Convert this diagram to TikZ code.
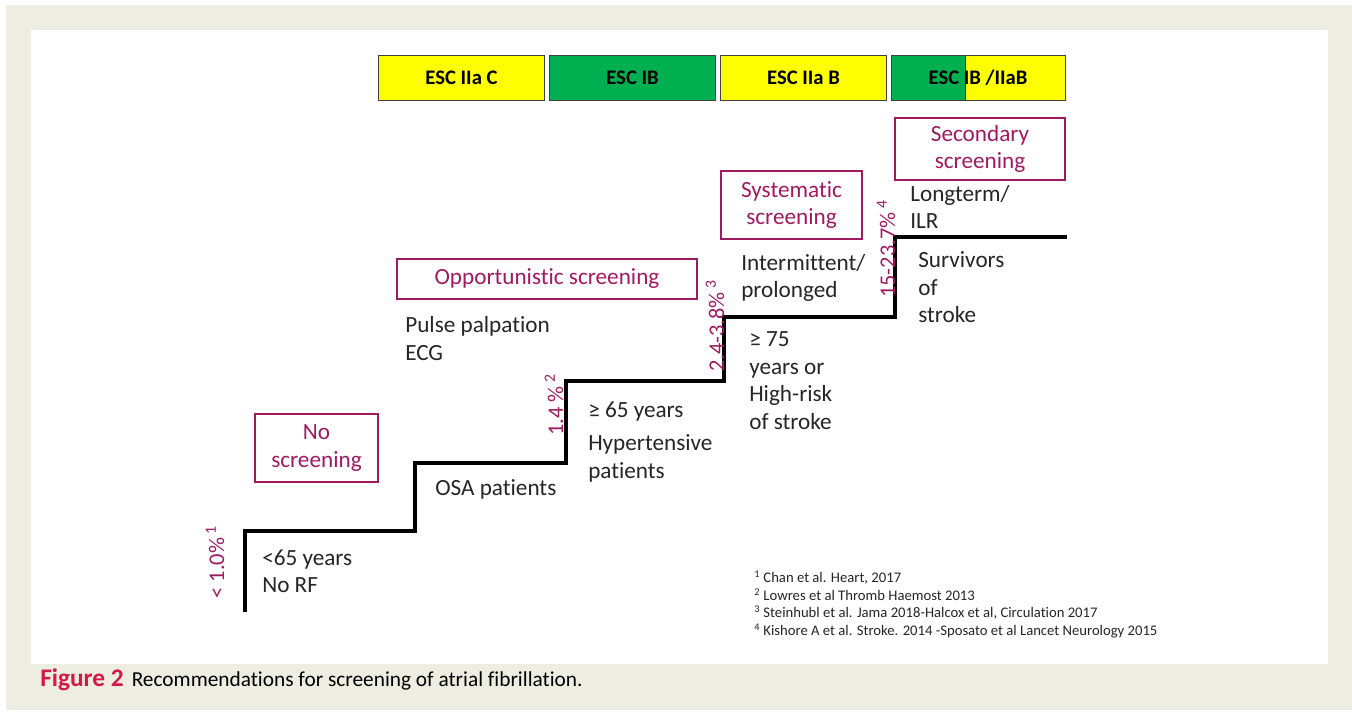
\documentclass[tikz,border=0pt]{standalone}
\usepackage{fontspec}
\setmainfont{Carlito}[Ligatures=NoCommon]
\definecolor{beige}{RGB}{238,237,225}
\definecolor{escyellow}{RGB}{255,255,0}
\definecolor{escgreen}{RGB}{0,176,80}
\definecolor{scrpurple}{RGB}{158,27,98}
\definecolor{capred}{RGB}{213,24,74}
\tikzset{
  escbox/.style={draw=black!75, line width=0.6pt, minimum width=125pt, minimum height=34pt, inner sep=0pt, font=\fontsize{15.5}{17}\selectfont\bfseries},
  scrbox/.style={draw=scrpurple, line width=1.4pt, inner sep=0pt, text=scrpurple, align=center, font=\fontsize{17.4}{20.5}\selectfont},
  lbl/.style={anchor=mid west, inner sep=0pt, yshift=-2pt, font=\fontsize{17.4}{20.5}\selectfont, text=black!85},
  pct/.style={rotate=90, inner sep=0pt, text=scrpurple, font=\fontsize{16.8}{19}\selectfont},
  fn/.style={anchor=mid west, inner sep=0pt, yshift=-1pt, font=\fontsize{11}{13}\selectfont, text=black!85},
  stair/.style={line width=2.3pt, line cap=rect}
}
\begin{document}
\begin{tikzpicture}[x=0.75pt,y=-0.75pt]
\fill[white] (0,0) rectangle (1352,714);
\fill[beige] (6,5) rectangle (1352,710);
\fill[white] (31,30) rectangle (1328,664);
\useasboundingbox (0,0) rectangle (1352,714);

% ESC boxes
\node[escbox, fill=escyellow, minimum width=125pt] (e1) at (461.5,78) {ESC IIa C};
\node[escbox, fill=escgreen, minimum width=125pt] (e2) at (632.5,78) {ESC IB};
\node[escbox, fill=escyellow, minimum width=125pt] (e3) at (803.5,78) {ESC IIa B};
\fill[escgreen] (891,55.5) rectangle (965,100.5);
\fill[escyellow] (965,55.5) rectangle (1065,100.5);
\draw[black!75, line width=0.6pt] (965,55.5) -- (965,100.5);
\node[escbox, minimum width=130.5pt] (e4) at (978,78) {ESC IB /IIaB};

% staircase
\coordinate (s0) at (245,610);
\coordinate (s1) at (245,531);
\coordinate (s2) at (415,531);
\coordinate (s3) at (415,463);
\coordinate (s4) at (566,463);
\coordinate (s5) at (566,381);
\coordinate (s6) at (724,381);
\coordinate (s7) at (724,317);
\coordinate (s8) at (895,317);
\coordinate (s9) at (895,237);
\coordinate (s10) at (1065,237);
\draw[stair] (s0) -- (s1) -- (s2) -- (s3) -- (s4) -- (s5) -- (s6) -- (s7) -- (s8) -- (s9) -- (s10);

% screening boxes
\node[scrbox, minimum width=92pt, minimum height=51pt] (b1) at (316.5,448) {No\\screening};
\node[scrbox, minimum width=225pt, minimum height=30pt] (b2) at (547,279) {Opportunistic screening};
\node[scrbox, minimum width=105.75pt, minimum height=51pt] (b3) at (791.5,205) {Systematic\\screening};
\node[scrbox, minimum width=127.5pt, minimum height=46.5pt] (b4) at (980,149) {Secondary\\screening};

% labels
\node[lbl] (t1a) at (262,560) {<65 years};
\node[lbl] (t1b) at (262,587) {No RF};
\node[lbl] (t2) at (435,490) {OSA patients};
\node[lbl] (t3a) at (405,327) {Pulse palpation};
\node[lbl] (t3b) at (405,355) {ECG};
\node[lbl] (t4a) at (588,412) {≥ 65 years};
\node[lbl] (t4b) at (588,445) {Hypertensive};
\node[lbl] (t4c) at (588,473) {patients};
\node[lbl] (t5a) at (741,265) {Intermittent/};
\node[lbl] (t5b) at (741,292) {prolonged};
\node[lbl] (t6a) at (749,341) {≥ 75};
\node[lbl] (t6b) at (749,369) {years or};
\node[lbl] (t6c) at (749,396) {High-risk};
\node[lbl] (t6d) at (749,424) {of stroke};
\node[lbl] (t7a) at (910,196) {Longterm/};
\node[lbl] (t7b) at (910,223) {ILR};
\node[lbl] (t8a) at (918,262) {Survivors};
\node[lbl] (t8b) at (918,290) {of};
\node[lbl] (t8c) at (918,317) {stroke};

% percentages
\node[pct] (p1) at (215,562) {< 1.0\%\,\textsuperscript{1}};
\node[pct] (p2) at (554,405) {1.4 \%\,\textsuperscript{2}};
\node[pct] (p3) at (715,326) {2.4-3.8\%\,\textsuperscript{3}};
\node[pct] (p4) at (886,249) {15-23.7\%\,\textsuperscript{4}};

% footnotes
\node[fn] (f1) at (754,578) {\textsuperscript{1} Chan et al. Heart, 2017};
\node[fn] (f2) at (754,596) {\textsuperscript{2} Lowres et al Thromb Haemost 2013};
\node[fn] (f3) at (754,613) {\textsuperscript{3} Steinhubl et al. Jama 2018-Halcox et al, Circulation 2017};
\node[fn] (f4) at (754,631) {\textsuperscript{4} Kishore A et al. Stroke. 2014 -Sposato et al Lancet Neurology 2015};

% caption
\node[anchor=mid west, inner sep=0pt, font=\fontsize{16}{18}\selectfont] (cap) at (40,683) {{\color{capred}\fontsize{19}{20}\selectfont\bfseries Figure 2}\hspace{6pt}Recommendations for screening of atrial fibrillation.};
\end{tikzpicture}
\end{document}
